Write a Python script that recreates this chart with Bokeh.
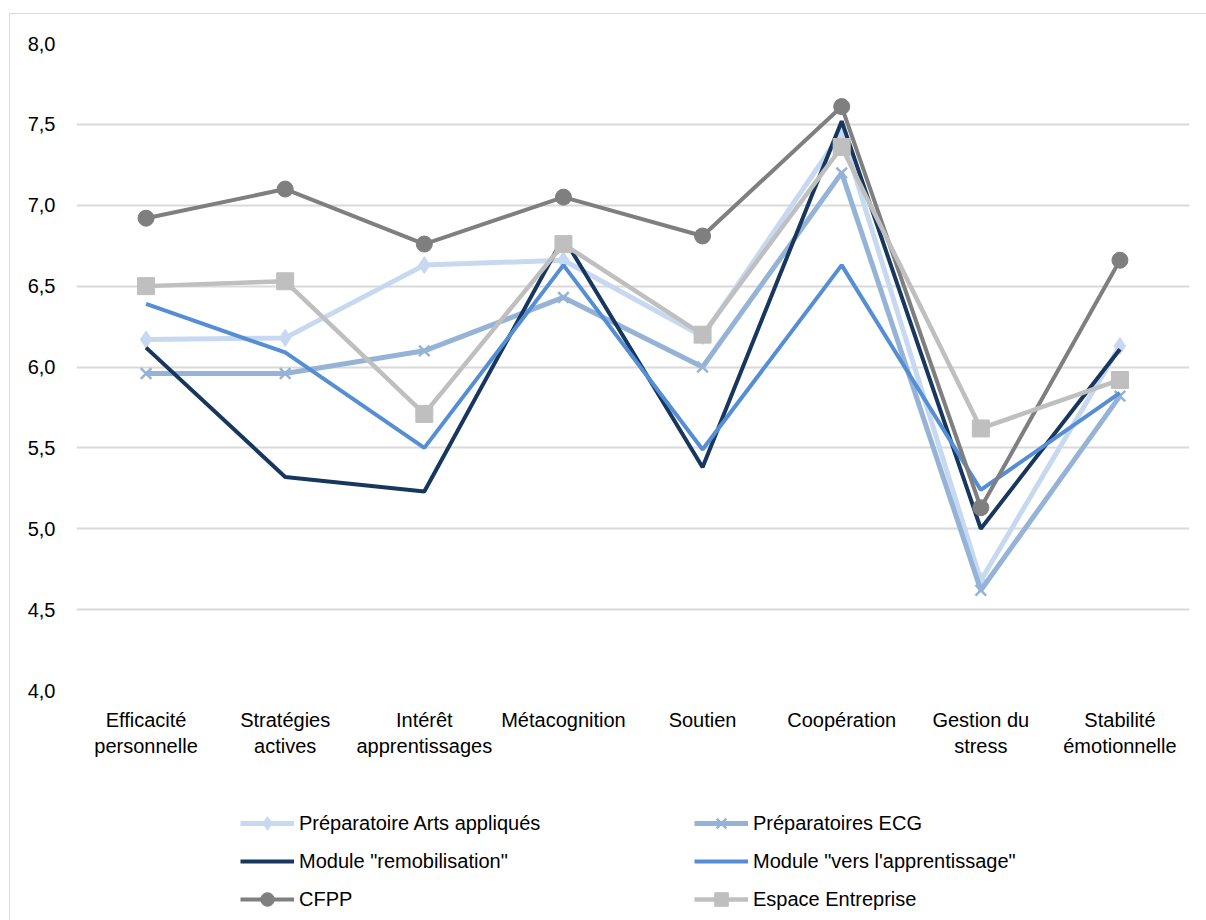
from bokeh.plotting import figure
from bokeh.models import Range1d, FactorRange, Legend, LegendItem, CustomJSTickFormatter, CategoricalAxis
from bokeh.layouts import column
from bokeh.embed import file_html
from bokeh.resources import INLINE

categories = ["Efficacité personnelle", "Stratégies actives", "Intérêt apprentissages",
              "Métacognition", "Soutien", "Coopération", "Gestion du stress",
              "Stabilité émotionnelle"]
label_line1 = ["Efficacité", "Stratégies", "Intérêt", "Métacognition", "Soutien",
               "Coopération", "Gestion du", "Stabilité"]
label_line2 = ["personnelle", "actives", "apprentissages", "", "", "", "stress", "émotionnelle"]

arts = [6.17, 6.18, 6.63, 6.66, 6.19, 7.45, 4.68, 6.13]
ecg = [5.96, 5.96, 6.10, 6.43, 6.00, 7.20, 4.62, 5.82]
remob = [6.12, 5.32, 5.23, 6.80, 5.38, 7.52, 5.00, 6.11]
vers = [6.39, 6.09, 5.50, 6.63, 5.49, 6.63, 5.24, 5.84]
cfpp = [6.92, 7.10, 6.76, 7.05, 6.81, 7.61, 5.13, 6.66]
espace = [6.50, 6.53, 5.71, 6.76, 6.20, 7.36, 5.62, 5.92]

series_names = ["Préparatoire Arts appliqués", "Préparatoires ECG", 'Module "remobilisation"',
                'Module "vers l\'apprentissage"', "CFPP", "Espace Entreprise"]

FONT = "Liberation Sans"
FS = "20px"

p = figure(width=1196, height=776, x_range=FactorRange(*categories),
           y_range=Range1d(4, 8), output_backend="svg", toolbar_location=None,
           min_border_left=66, min_border_right=17, min_border_top=29, min_border_bottom=100)
p.x_range.range_padding = 0
p.x_range.factor_padding = 0
p.outline_line_color = None

p.xgrid.grid_line_color = None
p.ygrid.grid_line_color = "#d9d9d9"
p.ygrid.grid_line_width = 2

p.yaxis.ticker = [4.0, 4.5, 5.0, 5.5, 6.0, 6.5, 7.0, 7.5, 8.0]
p.yaxis.formatter = CustomJSTickFormatter(code="return tick.toFixed(1).replace('.', ',');")
p.yaxis.major_label_standoff = 15

xaxis2 = CategoricalAxis()
p.add_layout(xaxis2, "below")

for ax in (p.xaxis[0], p.yaxis[0], xaxis2):
    ax.axis_line_color = None
    ax.major_tick_line_color = None
    ax.minor_tick_line_color = None
    ax.major_label_text_font = FONT
    ax.major_label_text_font_size = FS
    ax.major_label_text_color = "#000000"

p.xaxis[0].major_label_standoff = 12
p.xaxis[0].formatter = CustomJSTickFormatter(
    args=dict(cats=categories, labs=label_line1),
    code="const i = cats.indexOf(tick); return i >= 0 ? labs[i] : tick;")
xaxis2.major_label_standoff = -5
xaxis2.formatter = CustomJSTickFormatter(
    args=dict(cats=categories, labs=label_line2),
    code="const i = cats.indexOf(tick); return i >= 0 ? labs[i] : '';")

styles = [
    (arts, "#c6d9f1", 5.0, "diamond", 17),
    (ecg, "#95b3d7", 5.0, "x", 15),
    (remob, "#17375e", 4.0, None, 0),
    (vers, "#558ed5", 4.0, None, 0),
    (cfpp, "#7f7f7f", 4.0, "circle", 16),
    (espace, "#bfbfbf", 4.5, "square", 17),
]

# legend-only figure
q = figure(width=1196, height=130, x_range=Range1d(0, 1), y_range=Range1d(0, 1),
           output_backend="svg", toolbar_location=None,
           x_axis_location=None, y_axis_location=None,
           min_border=0, min_border_left=0, min_border_right=0, min_border_top=0, min_border_bottom=0)
q.grid.visible = False
q.outline_line_color = None

items = []
for name, (vals, color, lw, marker, size) in zip(series_names, styles):
    p.line(categories, vals, line_color=color, line_width=lw)
    if marker:
        p.scatter(categories, vals, marker=marker, size=size,
                  fill_color=color, line_color=color, line_width=2.5 if marker == "x" else 1)
    rs = [q.line([-10, -9], [-10, -9], line_color=color, line_width=lw)]
    if marker:
        rs.append(q.scatter([-10], [-10], marker=marker, size=size,
                            fill_color=color, line_color=color, line_width=2.5 if marker == "x" else 1))
    items.append(LegendItem(label=name, renderers=rs))

def make_legend(its, x, y):
    return Legend(items=its, location=(x, y), orientation="vertical",
                  label_text_font=FONT, label_text_font_size=FS, label_text_color="#000000",
                  glyph_width=54, glyph_height=34, label_height=20, spacing=4,
                  padding=0, margin=0, label_standoff=5,
                  border_line_color=None, background_fill_alpha=0)

q.add_layout(make_legend([items[0], items[2], items[4]], 164, 4))
q.add_layout(make_legend([items[1], items[3], items[5]], 618, 4))

layout = column(p, q, spacing=0)
layout.styles = {"border": "1px solid #d9d9d9", "margin-left": "9px", "margin-top": "13px"}

open("out.html", "w").write(file_html(layout, INLINE))
